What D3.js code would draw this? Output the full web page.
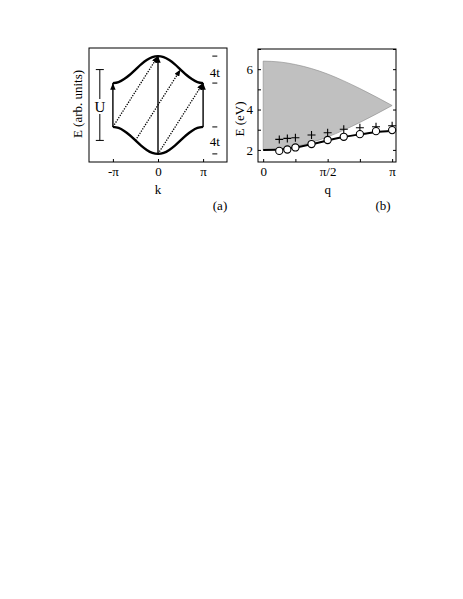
<!DOCTYPE html>
<html>
<head>
<meta charset="utf-8">
<script src="https://cdn.jsdelivr.net/npm/d3@7"></script>
<style>
  body { margin: 0; background: #fff; }
  svg text { font-family: "Liberation Serif", "Times New Roman", serif; fill: #000; }
</style>
</head>
<body>
<div id="chart"></div>
<script>
// panel (a): band dispersion, k in units of pi
var bandK = [-1, -0.875, -0.75, -0.625, -0.5, -0.375, -0.25, -0.125, 0, 0.125, 0.25, 0.375, 0.5, 0.625, 0.75, 0.875, 1];
var upperBand = [3.25, 3.4, 3.84, 4.48, 5.25, 6.02, 6.66, 7.1, 7.25, 7.1, 6.66, 6.02, 5.25, 4.48, 3.84, 3.4, 3.25];
var lowerBand = upperBand.map(function(e){ return -e; });
var kTicks = [-1, 0, 1];
var kTickLabels = ["-π", "0", "π"];
// transitions: from k on lower band to k on upper band
var solidArrows = [[-1, -1], [0, 0], [1, 1]];
var dottedArrows = [[-1, 0], [-0.5, 0.5], [0, 1]];
var bandEdges = [7.25, 3.25, -3.25, -7.25];
var bandCentres = [5.25, -5.25];

// panel (b): q in units of pi, E in eV
var qCont = [0, 0.125, 0.25, 0.375, 0.5, 0.625, 0.75, 0.875, 1];
var contUpper = [6.4, 6.36, 6.23, 6.03, 5.76, 5.42, 5.04, 4.63, 4.2];
var contLower = [2.0, 2.04, 2.17, 2.37, 2.64, 2.98, 3.36, 3.77, 4.2];
var lineQ = [0, 0.125, 0.25, 0.375, 0.5, 0.625, 0.75, 0.875, 1];
var lineE = [2.0, 2.02, 2.12, 2.28, 2.47, 2.64, 2.77, 2.88, 2.95];
var ptQ = [0.125, 0.1875, 0.25, 0.375, 0.5, 0.625, 0.75, 0.875, 1];
var circleE = [1.95, 2.02, 2.12, 2.29, 2.49, 2.65, 2.78, 2.93, 2.98];
var plusE = [2.52, 2.57, 2.6, 2.74, 2.85, 3.02, 3.1, 3.15, 3.2];
var qTicks = [0, 0.25, 0.5, 0.75, 1];
var qTickLabels = {"0": "0", "0.5": "π/2", "1": "π"};
var eTicks = [2, 3, 4, 5, 6, 7];

var svg = d3.select("#chart").append("svg")
    .attr("width", 463).attr("height", 599);

svg.append("defs").append("marker")
    .attr("id", "head")
    .attr("viewBox", "0 0 10 8")
    .attr("refX", 10).attr("refY", 4)
    .attr("markerWidth", 7).attr("markerHeight", 5.4)
    .attr("markerUnits", "userSpaceOnUse")
    .attr("orient", "auto")
    .append("path").attr("d", "M0,0 L10,4 L0,8 z").attr("fill", "#000");

// ---------- panel (a) ----------
var ax = d3.scaleLinear().domain([-1.53, 1.53]).range([89, 227]);
var ay = d3.scaleLinear().domain([-8.45, 8.45]).range([162, 48]);
var ga = svg.append("g");

ga.append("rect")
    .attr("x", 89).attr("y", 48).attr("width", 138).attr("height", 114)
    .attr("fill", "none").attr("stroke", "#000").attr("stroke-width", 1);

ga.append("g")
    .attr("transform", "translate(0,162)")
    .call(d3.axisBottom(ax).tickValues(kTicks).tickSize(-3).tickPadding(5)
          .tickFormat(function(d, i){ return kTickLabels[i]; }))
    .call(function(g){ g.select(".domain").remove(); })
    .selectAll("text").style("font-size", "13px");

var bandLine = d3.line()
    .x(function(d){ return ax(d[0]); })
    .y(function(d){ return ay(d[1]); })
    .curve(d3.curveMonotoneX);

[upperBand, lowerBand].forEach(function(band){
    ga.append("path")
        .attr("d", bandLine(d3.zip(bandK, band)))
        .attr("fill", "none").attr("stroke", "#000").attr("stroke-width", 2.4);
});

function bandAt(band, k){ return band[bandK.indexOf(k)]; }

solidArrows.forEach(function(a){
    ga.append("line")
        .attr("x1", ax(a[0])).attr("y1", ay(bandAt(lowerBand, a[0])))
        .attr("x2", ax(a[1])).attr("y2", ay(bandAt(upperBand, a[1])))
        .attr("stroke", "#000").attr("stroke-width", 1.4)
        .attr("marker-end", "url(#head)");
});
dottedArrows.forEach(function(a){
    ga.append("line")
        .attr("x1", ax(a[0])).attr("y1", ay(bandAt(lowerBand, a[0])))
        .attr("x2", ax(a[1])).attr("y2", ay(bandAt(upperBand, a[1])))
        .attr("stroke", "#000").attr("stroke-width", 1.3)
        .attr("stroke-dasharray", "1.3,1.3")
        .attr("marker-end", "url(#head)");
});

// U bar
var ux = ax(-1.29);
ga.append("line").attr("x1", ux).attr("x2", ux)
    .attr("y1", ay(bandCentres[0])).attr("y2", ay(bandCentres[1]))
    .attr("stroke", "#000").attr("stroke-width", 1);
bandCentres.forEach(function(e){
    ga.append("line").attr("x1", ux - 4).attr("x2", ux + 4)
        .attr("y1", ay(e)).attr("y2", ay(e))
        .attr("stroke", "#000").attr("stroke-width", 1);
});
ga.append("rect").attr("x", ux - 6).attr("y", ay(0) - 6).attr("width", 12).attr("height", 15).attr("fill", "#fff");
ga.append("text").attr("x", ux).attr("y", ay(0) + 7)
    .attr("text-anchor", "middle").style("font-size", "15px").text("U");

// 4t markers
var mx = ax(1.26);
bandEdges.forEach(function(e){
    ga.append("line").attr("x1", mx - 2.5).attr("x2", mx + 2.5)
        .attr("y1", ay(e)).attr("y2", ay(e))
        .attr("stroke", "#000").attr("stroke-width", 1);
});
bandCentres.forEach(function(e){
    ga.append("text").attr("x", mx).attr("y", ay(e) + (e > 0 ? 7 : 6))
        .attr("text-anchor", "middle").style("font-size", "13px").text("4t");
});

ga.append("text")
    .attr("transform", "translate(82,104) rotate(-90)")
    .attr("text-anchor", "middle").style("font-size", "13px").text("E (arb. units)");
ga.append("text").attr("x", ax(0)).attr("y", 194)
    .attr("text-anchor", "middle").style("font-size", "13px").text("k");
ga.append("text").attr("x", 220).attr("y", 210)
    .attr("text-anchor", "middle").style("font-size", "13px").text("(a)");

// ---------- panel (b) ----------
var bx = d3.scaleLinear().domain([-0.04, 1.03]).range([258, 396]);
var by = d3.scaleLinear().domain([1.4, 7.0]).range([162, 49]);
var gb = svg.append("g");

var area = d3.area()
    .x(function(d){ return bx(d[0]); })
    .y0(function(d){ return by(d[1]); })
    .y1(function(d){ return by(d[2]); })
    .curve(d3.curveMonotoneX);
gb.append("path")
    .attr("d", area(d3.zip(qCont, contLower, contUpper)))
    .attr("fill", "#c0c0c0").attr("stroke", "#8a8a8a").attr("stroke-width", 0.6);

gb.append("rect")
    .attr("x", 258).attr("y", 49).attr("width", 138).attr("height", 113)
    .attr("fill", "none").attr("stroke", "#000").attr("stroke-width", 1);

gb.append("g")
    .attr("transform", "translate(0,162)")
    .call(d3.axisBottom(bx).tickValues(qTicks).tickSize(-3).tickPadding(5)
          .tickFormat(function(d){ return qTickLabels[String(d)] || ""; }))
    .call(function(g){ g.select(".domain").remove(); })
    .selectAll("text").style("font-size", "13px");
gb.append("g")
    .attr("transform", "translate(258,0)")
    .call(d3.axisLeft(by).tickValues(eTicks).tickSize(-3).tickPadding(5)
          .tickFormat(function(d){ return d % 2 === 0 ? d : ""; }))
    .call(function(g){ g.select(".domain").remove(); })
    .selectAll("text").style("font-size", "13px");
gb.append("g")
    .attr("transform", "translate(396,0)")
    .call(d3.axisRight(by).tickValues(eTicks).tickSize(-3).tickFormat(""))
    .call(function(g){ g.select(".domain").remove(); });

var eLine = d3.line()
    .x(function(d){ return bx(d[0]); })
    .y(function(d){ return by(d[1]); })
    .curve(d3.curveMonotoneX);
gb.append("path")
    .attr("d", eLine(d3.zip(lineQ, lineE)))
    .attr("fill", "none").attr("stroke", "#000").attr("stroke-width", 2);

// plus markers
gb.selectAll(".plus").data(d3.zip(ptQ, plusE)).enter()
    .append("path").attr("class", "plus")
    .attr("d", function(d){
        var cx = bx(d[0]), cy = by(d[1]);
        return "M" + (cx - 4) + "," + cy + "H" + (cx + 4) + "M" + cx + "," + (cy - 4) + "V" + (cy + 4);
    })
    .attr("stroke", "#000").attr("stroke-width", 1.1);

gb.selectAll(".pt").data(d3.zip(ptQ, circleE)).enter()
    .append("circle").attr("class", "pt")
    .attr("cx", function(d){ return bx(d[0]); })
    .attr("cy", function(d){ return by(d[1]); })
    .attr("r", 3.6)
    .attr("fill", "#fff").attr("stroke", "#000").attr("stroke-width", 1.1);

gb.append("text")
    .attr("transform", "translate(244,119) rotate(-90)")
    .attr("text-anchor", "middle").style("font-size", "13px").text("E (eV)");
gb.append("text").attr("x", bx(0.5)).attr("y", 194)
    .attr("text-anchor", "middle").style("font-size", "13px").text("q");
gb.append("text").attr("x", 383).attr("y", 210)
    .attr("text-anchor", "middle").style("font-size", "13px").text("(b)");
</script>
</body>
</html>
